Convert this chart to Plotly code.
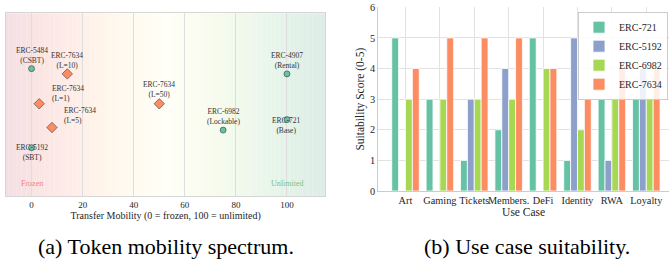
import plotly.graph_objects as go
from plotly.colors import sample_colorscale, unlabel_rgb

W, H = 669, 259
SERIF = "Liberation Serif, Times New Roman, serif"
TXT = "#262626"

# ---------------- Panel (a): token mobility spectrum ----------------
token_labels = ["ERC-5484<br>(CSBT)", "ERC-7634<br>(L=10)", "ERC-7634<br>(L=1)",
                "ERC-7634<br>(L=5)", "ERC-5192<br>(SBT)", "ERC-7634<br>(L=50)",
                "ERC-6982<br>(Lockable)", "ERC-4907<br>(Rental)", "ERC-721<br>(Base)"]
token_mobility = [0, 14, 3, 8, 0, 50, 75, 100, 100]
token_row = [0.9, 0.84, 0.5, 0.23, 0.0, 0.5, 0.2, 0.84, 0.32]
token_kind = ["std", "var", "var", "var", "std", "var", "std", "std", "std"]
mobility_ticks = [0, 20, 40, 60, 80, 100]
zone_labels = ["Frozen", "Unlimited"]
zone_x = [0, 100]
zone_y = [-0.41, -0.41]

# label placement (style): (xanchor, xshift px, yshift px)
label_offsets = [("center", 0, 13), ("center", 0, 13.5), ("left", 10.5, 10),
                 ("left", 10.5, 12), ("center", 0, -5), ("center", 0, 14),
                 ("center", 0, 13.3), ("center", 0, 13.8), ("center", 0, -5.5)]

# ---------------- Panel (b): use case suitability ----------------
use_cases = ["Art", "Gaming", "Tickets", "Members.", "DeFi", "Identity", "RWA", "Loyalty"]
score_erc721 = [5, 3, 1, 2, 5, 1, 3, 3]
score_erc5192 = [0, 0, 3, 4, 0, 5, 1, 4]
score_erc6982 = [3, 3, 3, 3, 4, 2, 3, 3]
score_erc7634 = [4, 5, 5, 5, 4, 3, 4, 4]
series_names = ["ERC-721", "ERC-5192", "ERC-6982", "ERC-7634"]
series_colors = ["#66c2a5", "#8da0cb", "#a6d854", "#fc8d62"]

fig = go.Figure()

# scatter points
for kind, sym, col, size in [("std", "circle", "#66c2a5", 6), ("var", "diamond", "#fc8d62", 8)]:
    idx = [i for i, k in enumerate(token_kind) if k == kind]
    fig.add_trace(go.Scatter(
        x=[token_mobility[i] for i in idx], y=[token_row[i] for i in idx],
        mode="markers", xaxis="x", yaxis="y", showlegend=False,
        marker=dict(symbol=sym, color=col, size=size,
                    line=dict(color="#3a3a3a", width=0.6)),
    ))

# bars
for name, vals, col in zip(series_names,
                           [score_erc721, score_erc5192, score_erc6982, score_erc7634],
                           series_colors):
    fig.add_trace(go.Bar(x=use_cases, y=vals, name=name, xaxis="x2", yaxis="y2",
                         marker=dict(color=col, line=dict(color="white", width=0.8))))

# gradient background for panel (a)
x0g, x1g, nstrip = -10, 115, 125
fracs = [(i + 0.5) / nstrip for i in range(nstrip)]
cols = sample_colorscale("RdYlGn", fracs)
alpha = 0.13
shapes = []
for i, c in enumerate(cols):
    r, g, b = unlabel_rgb(c)
    rr = round(255 * (1 - alpha) + r * alpha)
    gg = round(255 * (1 - alpha) + g * alpha)
    bb = round(255 * (1 - alpha) + b * alpha)
    xa = x0g + (x1g - x0g) * i / nstrip
    xb = x0g + (x1g - x0g) * (i + 1) / nstrip
    shapes.append(dict(type="rect", xref="x", yref="y domain", x0=xa, x1=xb + 0.05,
                       y0=0, y1=1, layer="below", line=dict(width=0),
                       fillcolor=f"rgb({rr},{gg},{bb})"))

annotations = []
for i, lab in enumerate(token_labels):
    xa, xs, ys = label_offsets[i]
    annotations.append(dict(x=token_mobility[i], y=token_row[i], xref="x", yref="y",
                            text=lab, showarrow=False, xanchor=xa, yanchor="middle",
                            align="left" if xa == "left" else "center",
                            xshift=xs, yshift=ys,
                            font=dict(family=SERIF, size=7.5, color="#333333")))
zone_colors = ["rgb(245,128,128)", "rgb(128,190,128)"]
for t, zx, zy, zc in zip(zone_labels, zone_x, zone_y, zone_colors):
    annotations.append(dict(x=zx, y=zy, xref="x", yref="y", text=t, showarrow=False,
                            xanchor="center", yanchor="middle",
                            font=dict(family=SERIF, size=8, color=zc)))

# captions
annotations.append(dict(x=165.5 / W, y=1 - 246.5 / H, xref="paper", yref="paper",
                        text="(a) Token mobility spectrum.", showarrow=False,
                        xanchor="center", yanchor="middle",
                        font=dict(family=SERIF, size=22, color="black")))
annotations.append(dict(x=527 / W, y=1 - 246.5 / H, xref="paper", yref="paper",
                        text="(b) Use case suitability.", showarrow=False,
                        xanchor="center", yanchor="middle",
                        font=dict(family=SERIF, size=22, color="black")))

fig.update_layout(
    width=W, height=H,
    margin=dict(l=0, r=0, t=0, b=0),
    paper_bgcolor="white", plot_bgcolor="white",
    barmode="group", bargap=0.2, bargroupgap=0,
    shapes=shapes, annotations=annotations,
    font=dict(family=SERIF, color=TXT),
    xaxis=dict(domain=[6 / W, 325.3 / W], range=[-10, 115], tickvals=mobility_ticks,
               showgrid=True, gridcolor="#dedede", gridwidth=1, zeroline=False,
               showline=True, mirror=True, linecolor="#d6d6d6", linewidth=1,
               ticks="", tickfont=dict(size=9, color=TXT), automargin=False,
               title=dict(text="Transfer Mobility (0 = frozen, 100 = unlimited)",
                          font=dict(size=10, color=TXT), standoff=2),
               anchor="y"),
    yaxis=dict(domain=[1 - 196 / H, 1 - 13.3 / H], range=[-0.55, 1.53],
               showgrid=False, zeroline=False, showticklabels=False, ticks="",
               showline=True, mirror=True, linecolor="#d6d6d6", linewidth=1,
               automargin=False, anchor="x"),
    xaxis2=dict(domain=[378.3 / W, 1.0], range=[-0.79, 7.66], type="category",
                showgrid=True, gridcolor="#e2e2e2", gridwidth=1, zeroline=False,
                showline=True, linecolor="#cccccc", linewidth=1, tickangle=0,
                ticks="", tickfont=dict(size=10.3, color=TXT), automargin=False,
                title=dict(text="Use Case", font=dict(size=11.5, color=TXT), standoff=2),
                anchor="y2"),
    yaxis2=dict(domain=[1 - 191 / H, 1 - 7.3 / H], range=[0, 6], dtick=1,
                showgrid=True, gridcolor="#e2e2e2", gridwidth=1, zeroline=False,
                showline=True, linecolor="#cccccc", linewidth=1,
                ticks="", tickfont=dict(size=10.3, color=TXT), automargin=False,
                title=dict(text="Suitability Score (0-5)", font=dict(size=11.5, color=TXT),
                           standoff=3),
                anchor="x2"),
    legend=dict(x=668 / W, y=1 - 11.7 / H, xanchor="right", yanchor="top",
                bgcolor="rgba(255,255,255,0.85)", bordercolor="#cccccc", borderwidth=1,
                font=dict(family=SERIF, size=10, color=TXT),
                tracegroupgap=0, itemwidth=30),
)

fig.write_html("out.html", config={"displayModeBar": False},
               post_script="document.body.style.margin='0';document.body.style.overflow='hidden';")
